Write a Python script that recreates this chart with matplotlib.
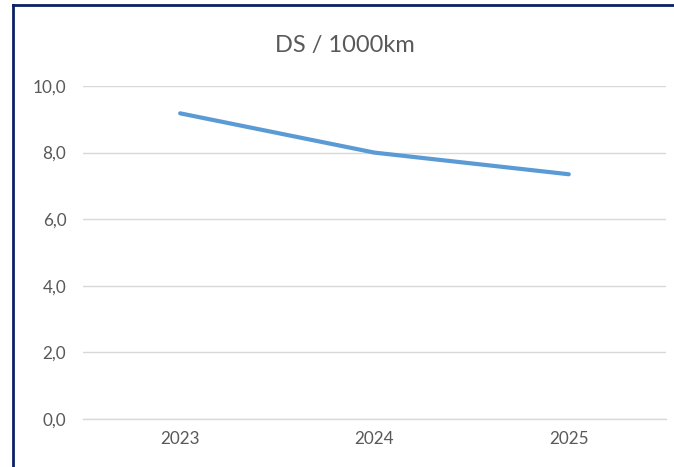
import matplotlib.pyplot as plt
from matplotlib.lines import Line2D

years = ['2023', '2024', '2025']
ds_per_1000km = [9.18, 8.0, 7.35]
y_ticks = [0, 2, 4, 6, 8, 10]
y_labels = ['0,0', '2,0', '4,0', '6,0', '8,0', '10,0']

plt.rcParams['font.family'] = ['Lato', 'DejaVu Sans']

fig = plt.figure(figsize=(6.74, 4.67), dpi=100)
ax = fig.add_axes([0.1231, 0.1028, 0.865, 0.713])

x = range(len(years))
ax.plot(x, ds_per_1000km, color='#5B9BD5', linewidth=3,
        solid_capstyle='round', solid_joinstyle='round', zorder=3)

ax.set_xlim(-0.5, len(years) - 0.5)
ax.set_ylim(0, 10)
ax.set_xticks(list(x))
ax.set_xticklabels(years)
ax.set_yticks(y_ticks)
ax.set_yticklabels(y_labels)
ax.tick_params(axis='both', length=0, labelsize=12.3, labelcolor='#595959')
ax.tick_params(axis='y', pad=12)
ax.tick_params(axis='x', pad=9)

ax.grid(axis='y', color='#D9D9D9', linewidth=1)
ax.set_axisbelow(True)
for side in ['top', 'right', 'left']:
    ax.spines[side].set_visible(False)
ax.spines['bottom'].set_color('#D9D9D9')
ax.spines['bottom'].set_linewidth(1)

fig.text(0.512, 0.903, 'DS / 1000km', ha='center', va='center',
         fontsize=17, color='#595959')

# navy frame (left and top edges visible)
fig.add_artist(Line2D([0.0193, 0.0193], [0, 0.9893], transform=fig.transFigure,
                      color='#0A2263', linewidth=2))
fig.add_artist(Line2D([0.0193, 1.0], [0.9893, 0.9893], transform=fig.transFigure,
                      color='#0A2263', linewidth=2))

fig.savefig('out.png', dpi=100)
